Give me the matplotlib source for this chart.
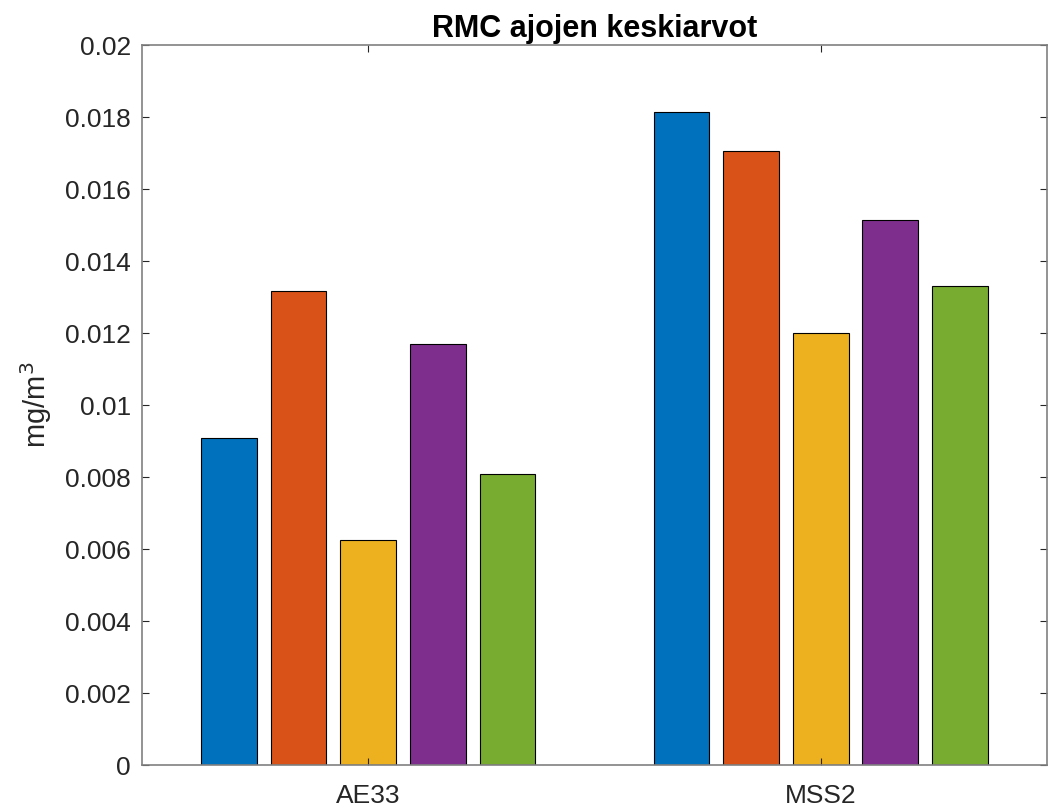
import numpy as np
import matplotlib
matplotlib.use("Agg")
import matplotlib.pyplot as plt
from matplotlib import rcParams

rcParams["font.family"] = ["Liberation Sans", "DejaVu Sans"]

groups = ["AE33", "MSS2"]
series_values = [
    [0.00908, 0.01813],
    [0.01318, 0.01705],
    [0.00624, 0.01200],
    [0.01170, 0.01513],
    [0.00808, 0.01331],
]
colors = ["#0072BD", "#D95319", "#EDB120", "#7E2F8E", "#77AC30"]

fig = plt.figure(figsize=(10.48, 8.07), dpi=100)
ax = fig.add_axes([0.1355, 0.052, 0.8635, 0.892])

x = np.arange(1, len(groups) + 1)
n = len(series_values)
groupwidth = min(0.8, n / (n + 1.5))
step = groupwidth / n
width = 0.8 * step
for i, vals in enumerate(series_values):
    off = (i - (n - 1) / 2) * step
    ax.bar(x + off, vals, width, color=colors[i], edgecolor="black", linewidth=0.8)

ax.set_xlim(0.5, 2.5)
ax.set_ylim(0, 0.02)
ax.set_xticks(x)
ax.set_xticklabels(groups)
yt = np.arange(0, 0.0201, 0.002)
ax.set_yticks(yt)
ax.set_yticklabels(["0"] + [f"{v:g}" for v in yt[1:]])
ax.tick_params(direction="in", length=5, width=0.8, colors="#262626",
               labelsize=19, top=True, right=True, pad=8)
ax.tick_params(axis="x", pad=14)
for s in ax.spines.values():
    s.set_color("#808080")
    s.set_linewidth(1.2)
ax.set_ylabel("mg/m$^3$", fontsize=21, color="#262626", labelpad=8)
ax.set_title("RMC ajojen keskiarvot", fontsize=22, fontweight="bold", pad=6)

fig.savefig("out.png", dpi=100)
